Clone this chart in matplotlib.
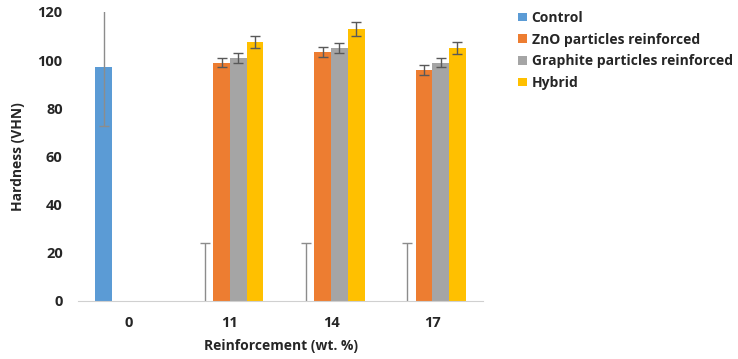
import matplotlib
matplotlib.use("Agg")
import matplotlib.pyplot as plt
import numpy as np

plt.rcParams['font.family'] = ['Open Sans', 'DejaVu Sans']

categories = ["0", "11", "14", "17"]
series_names = ["Control", "ZnO particles reinforced", "Graphite particles reinforced", "Hybrid"]
control = [97, 0, 0, 0]
control_err = [24.5, 24.2, 24.2, 24.2]
zno = [0, 99, 103.5, 96]
zno_err = [0, 2, 2, 2]
graphite = [0, 101, 105, 99]
graphite_err = [0, 2, 2, 2]
hybrid = [0, 107.5, 113, 105]
hybrid_err = [0, 2.5, 3, 2.5]

colors = ["#5B9BD5", "#ED7D31", "#A5A5A5", "#FFC000"]

fig = plt.figure(figsize=(7.38, 3.59), dpi=100)
ax = fig.add_axes([0.1057, 0.1616, 0.5488, 0.805])

x = np.arange(len(categories))
w = 0.165
vals = [control, zno, graphite, hybrid]
errs = [control_err, zno_err, graphite_err, hybrid_err]
for i, (v, e, c, n) in enumerate(zip(vals, errs, colors, series_names)):
    pos = x + (i - 1.5) * w
    ecol = "#8c8c8c" if i == 0 else "#595959"
    mask = [ev > 0 for ev in e]
    ax.bar(pos, v, width=w, color=c, label=n)
    pm = pos[mask]
    vm = np.array(v)[mask]
    em = np.array(e)[mask]
    ax.errorbar(pm, vm, yerr=em, fmt="none", ecolor=ecol, elinewidth=1.0,
                capsize=3.5, capthick=1.0)

ax.set_xlim(-0.5, 3.5)
ax.set_ylim(0, 120)
ax.set_yticks(range(0, 121, 20))
ax.set_xticks(x)
ax.set_xticklabels(categories)
for s in ["top", "right", "left"]:
    ax.spines[s].set_visible(False)
ax.spines["bottom"].set_color("#d0d0d0")
ax.tick_params(axis="both", length=0, labelsize=10.5, colors="#262626")
ax.tick_params(axis="y", pad=11)
ax.tick_params(axis="x", pad=11)
for lab in ax.get_xticklabels() + ax.get_yticklabels():
    lab.set_fontweight("bold")
ax.set_ylabel("Hardness (VHN)", fontsize=10, fontweight="bold", color="#262626", labelpad=9)
ax.set_xlabel("Reinforcement (wt. %)", fontsize=10, fontweight="bold", color="#262626", labelpad=6)

handles, labels = ax.get_legend_handles_labels()
leg = fig.legend(handles, labels, loc="upper left", bbox_to_anchor=(0.695, 0.985),
                 frameon=False, fontsize=10, handlelength=0.6, handleheight=0.6,
                 handletextpad=0.35, labelspacing=0.55, borderaxespad=0)
for t in leg.get_texts():
    t.set_fontweight("bold")
    t.set_color("#262626")

fig.savefig("out.png", dpi=100)
